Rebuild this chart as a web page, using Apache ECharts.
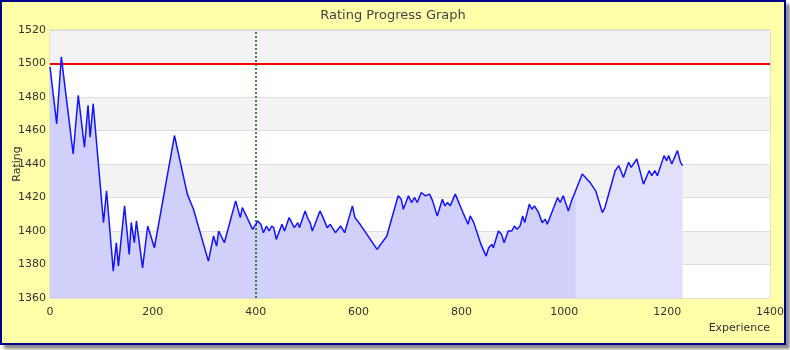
<!DOCTYPE html>
<html>
<head>
<meta charset="utf-8">
<script src="https://cdn.jsdelivr.net/npm/echarts@6/dist/echarts.min.js"></script>
<style>
  html, body { margin: 0; padding: 0; background: #ffffff; }
  #box {
    position: absolute; left: 0; top: 0;
    width: 782px; height: 341px;
    border: 2px solid #00008b;
    box-shadow: 4px 4px 3px #8a8a8a;
    background: #ffffaa;
  }
  #chart { width: 782px; height: 341px; }
</style>
</head>
<body>
<div id="box"><div id="chart"></div></div>
<script>
const experience = [0, 13, 22, 45, 55, 67, 74, 78, 84, 104, 110, 123, 129, 133, 145, 154, 158, 164, 168, 180,
    190, 203, 242, 267, 279, 308, 318, 324, 328, 339, 361, 370, 374, 394, 404, 410, 415, 421, 426, 431,
    435, 440, 451, 456, 465, 475, 482, 485, 496, 502, 506, 510, 525, 531, 539, 545, 555, 565, 573, 588,
    593, 603, 636, 655, 664, 677, 683, 687, 697, 703, 709, 714, 722, 730, 738, 744, 753, 763, 768, 773,
    778, 788, 803, 813, 817, 824, 838, 848, 853, 859, 862, 872, 878, 883, 891, 894, 898, 903, 908, 914,
    919, 923, 932, 937, 942, 950, 957, 963, 967, 987, 992, 998, 1008, 1014, 1022, 1035, 1050, 1061, 1074, 1079,
    1099, 1106, 1115, 1125, 1130, 1141, 1154, 1165, 1170, 1176, 1181, 1194, 1199, 1203, 1209, 1220, 1226, 1230];

const rating = [1498, 1464, 1504, 1446, 1481, 1450, 1475, 1456, 1476, 1405, 1424, 1376, 1393, 1379, 1415, 1386, 1405, 1393, 1406, 1378,
    1403, 1390, 1457, 1422, 1413, 1382, 1397, 1391, 1400, 1393, 1418, 1408, 1414, 1401, 1406, 1404, 1399, 1403, 1400, 1403,
    1402, 1395, 1404, 1400, 1408, 1402, 1405, 1402, 1412, 1407, 1405, 1400, 1412, 1408, 1402, 1404, 1399, 1403, 1399, 1415,
    1408, 1404, 1389, 1397, 1407, 1421, 1419, 1413, 1421, 1417, 1420, 1417, 1423, 1421, 1422, 1418, 1409, 1419, 1415, 1417,
    1415, 1422, 1411, 1404, 1409, 1405, 1392, 1385, 1390, 1392, 1390, 1400, 1398, 1393, 1400, 1401, 1400, 1403, 1401, 1403,
    1409, 1405, 1416, 1413, 1415, 1411, 1405, 1407, 1404, 1420, 1417, 1421, 1412, 1418, 1424, 1434, 1429, 1424, 1411, 1414,
    1436, 1439, 1432, 1441, 1438, 1443, 1428, 1436, 1433, 1436, 1433, 1445, 1442, 1445, 1440, 1448, 1441, 1439];

const seasonEnd = 1022;    // darker shading stops here
const startRating = 1500;  // red reference line
const marker = 400;        // green dotted line

const points = experience.map((x, i) => [x, rating[i]]);
const seasonPoints = points.filter(p => p[0] <= seasonEnd);

const chartDom = document.getElementById('chart');
const myChart = echarts.init(chartDom);

const font = 'DejaVu Sans';

let option = {
    animation: false,
    backgroundColor: '#ffffaa',
    title: {
        text: 'Rating Progress Graph',
        left: 'center',
        top: 2,
        textStyle: {
            fontFamily: font,
            fontSize: 13,
            fontWeight: 'normal',
            color: '#444'
        }
    },
    grid: {
        left: 48,
        top: 28,
        width: 720,
        height: 268,
        containLabel: false,
        outerBoundsMode: 'none',
        show: true,
        borderColor: '#cccccc',
        borderWidth: 1,
        backgroundColor: '#ffffff'
    },
    xAxis: {
        type: 'value',
        min: 0,
        max: 1400,
        interval: 200,
        name: 'Experience',
        nameLocation: 'end',
        nameGap: 0,
        nameMoveOverlap: false,
        nameTextStyle: {
            fontFamily: font,
            fontSize: 11,
            color: '#333',
            align: 'right',
            verticalAlign: 'top',
            padding: [25, 0, 0, 0]
        },
        axisLine: { show: false },
        axisTick: { show: false },
        splitLine: { show: false },
        axisLabel: {
            margin: 9,
            fontFamily: font,
            fontSize: 11,
            color: '#333',
            formatter: v => String(v)
        }
    },
    yAxis: {
        type: 'value',
        min: 1360,
        max: 1520,
        interval: 20,
        name: 'Rating',
        nameLocation: 'middle',
        nameGap: 27,
        nameMoveOverlap: false,
        nameTextStyle: {
            fontFamily: font,
            fontSize: 11,
            color: '#333'
        },
        axisLine: { show: false },
        axisTick: { show: false },
        splitLine: {
            lineStyle: { color: '#dddddd', width: 1 }
        },
        splitArea: {
            show: true,
            areaStyle: { color: ['#ffffff', '#f3f3f3'] }
        },
        axisLabel: {
            margin: 4,
            fontFamily: font,
            fontSize: 11,
            color: '#333',
            formatter: v => String(v)
        }
    },
    series: [
        {
            // light fill under the whole history
            type: 'line',
            data: points,
            showSymbol: false,
            lineStyle: { width: 0 },
            areaStyle: { color: '#e0e0fb', opacity: 1 },
            z: 2
        },
        {
            // darker fill up to season end
            type: 'line',
            data: seasonPoints,
            showSymbol: false,
            lineStyle: { width: 0 },
            areaStyle: { color: '#d0d0fa', opacity: 1 },
            z: 3
        },
        {
            type: 'line',
            data: points,
            showSymbol: false,
            lineStyle: { color: '#1414ff', width: 1.5 },
            z: 5,
            markLine: {
                silent: true,
                symbol: 'none',
                label: { show: false },
                data: [
                    { yAxis: startRating, lineStyle: { color: '#ff0000', width: 2, type: 'solid' } },
                    { xAxis: marker, lineStyle: { color: '#006400', width: 1.5, type: [2, 2] } }
                ]
            }
        }
    ]
};

if (option && typeof option === 'object') {
    myChart.setOption(option);
}
</script>
</body>
</html>
